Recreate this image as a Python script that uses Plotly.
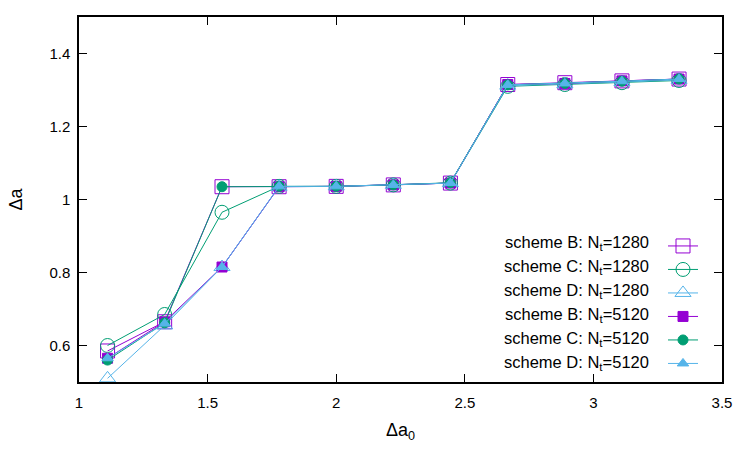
import plotly.graph_objects as go

x_vals = [1.111, 1.333, 1.556, 1.778, 2.0, 2.222, 2.444, 2.667, 2.889, 3.111, 3.333]

b_1280 = [0.585, 0.665, 1.035, 1.035, 1.036, 1.040, 1.045, 1.315, 1.320, 1.325, 1.330]
c_1280 = [0.600, 0.685, 0.965, 1.036, 1.036, 1.040, 1.045, 1.310, 1.315, 1.320, 1.326]
d_1280 = [0.510, 0.655, 0.815, 1.035, 1.036, 1.040, 1.045, 1.312, 1.316, 1.322, 1.328]
b_5120 = [0.565, 0.665, 0.815, 1.035, 1.036, 1.040, 1.045, 1.315, 1.318, 1.325, 1.330]
c_5120 = [0.560, 0.662, 1.035, 1.036, 1.036, 1.040, 1.046, 1.314, 1.318, 1.324, 1.330]
d_5120 = [0.565, 0.660, 0.815, 1.036, 1.036, 1.040, 1.045, 1.314, 1.318, 1.324, 1.330]

labels = ["scheme B: N<sub>t</sub>=1280", "scheme C: N<sub>t</sub>=1280", "scheme D: N<sub>t</sub>=1280",
          "scheme B: N<sub>t</sub>=5120", "scheme C: N<sub>t</sub>=5120", "scheme D: N<sub>t</sub>=5120"]
series = [b_1280, c_1280, d_1280, b_5120, c_5120, d_5120]
colors = ["#9400d3", "#009e73", "#56b4e9", "#9400d3", "#009e73", "#56b4e9"]
symbols = ["square-open", "circle-open", "triangle-up-open", "square", "circle", "triangle-up"]
sizes = [14, 14, 14, 10, 10, 10]

fig = go.Figure()
for i, ys in enumerate(series):
    fig.add_trace(go.Scatter(
        x=x_vals, y=ys, name=" ", mode="lines+markers",
        legendgroup=f"g{i}",
        line=dict(color=colors[i], width=1),
        marker=dict(symbol=symbols[i], size=sizes[i], color=colors[i],
                    line=dict(color=colors[i], width=1)),
    ))

# legend text, right-aligned, to the left of the native legend symbols
plot_top, plot_bot = 17, 382
row_px = [243, 267, 291, 315, 339, 363]
for lab, yp in zip(labels, row_px):
    fig.add_annotation(
        text=lab, xref="paper", yref="paper",
        x=(651 - 79) / 643, y=(plot_bot - yp) / (plot_bot - plot_top),
        xanchor="right", yanchor="middle", showarrow=False,
        font=dict(size=16.5, color="black"),
    )

axis_common = dict(showline=True, linecolor="black", linewidth=1.5, mirror="ticks",
                   ticks="inside", ticklen=8, tickcolor="black", showgrid=False,
                   zeroline=False, tickfont=dict(size=15, color="black"))

fig.update_layout(
    width=750, height=450,
    margin=dict(l=79, r=28, t=17, b=68),
    paper_bgcolor="white", plot_bgcolor="white",
    font=dict(family="Liberation Sans, Arial, sans-serif", size=15, color="black"),
    xaxis=dict(range=[1, 3.5], tickvals=[1, 1.5, 2, 2.5, 3, 3.5],
               ticktext=["1", "1.5", "2", "2.5", "3", "3.5"],
               ticklabelstandoff=6,
               title=dict(text="Δa<sub>0</sub>", standoff=14), **axis_common),
    yaxis=dict(range=[0.5, 1.5], tickvals=[0.6, 0.8, 1.0, 1.2, 1.4],
               ticktext=["0.6", "0.8", "1", "1.2", "1.4"],
               ticklabelstandoff=4,
               title=dict(text="Δa", standoff=22), **axis_common),
    legend=dict(x=(663 - 79) / 643, y=(plot_bot - 231) / (plot_bot - plot_top),
                xanchor="left", yanchor="top",
                bgcolor="rgba(255,255,255,0)", tracegroupgap=3.6,
                font=dict(size=13), itemwidth=30),
    showlegend=True,
)

fig.write_html("out.html")
